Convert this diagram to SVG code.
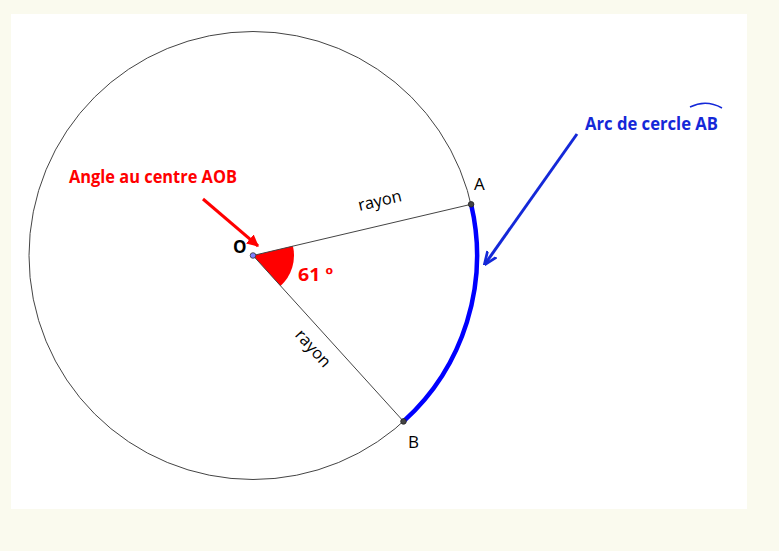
<svg xmlns="http://www.w3.org/2000/svg" width="779" height="551" viewBox="0 0 779 551">
<defs>
<style>
.lbl{font-family:"Open Sans","Liberation Sans",sans-serif;}
.red{fill:#ff0000;font-weight:bold;font-size:17px;}
.blue{fill:#1428d8;font-weight:bold;font-size:17px;}
.pt{font-size:17px;fill:#000;}
</style>
<marker id="arR" viewBox="0 0 10 10" refX="9" refY="5" markerWidth="4" markerHeight="4" orient="auto" markerUnits="strokeWidth">
<path d="M0,0 L10,5 L0,10 Z" fill="#ff0000"/>
</marker>
<marker id="arB" viewBox="0 0 10 10" refX="9" refY="5" markerWidth="4.5" markerHeight="4.5" orient="auto" markerUnits="strokeWidth">
<path d="M0,1 L10,5 L0,9" fill="none" stroke="#1428d8" stroke-width="2"/>
</marker>
</defs>
<rect width="779" height="551" fill="#fafaee"/>
<rect x="11" y="14" width="736" height="495" fill="#ffffff"/>
<g id="circle">
<circle cx="253" cy="255.5" r="224" fill="none" stroke="#444" stroke-width="1"/>
</g>
<g id="angle">
<path d="M253,255.5 L292.9,246.1 A41,41 0 0 1 280.5,285.9 Z" fill="#ff0000"/>
</g>
<g id="connectors">
<line x1="253" y1="255.5" x2="471.1" y2="204.3" stroke="#444" stroke-width="1"/>
<line x1="253" y1="255.5" x2="403.5" y2="421.4" stroke="#444" stroke-width="1"/>
<path d="M471.1,204.3 A224,224 0 0 1 403.5,421.4" fill="none" stroke="#0000ff" stroke-width="4.5"/>
<line x1="203" y1="199" x2="258" y2="246" stroke="#ff0000" stroke-width="3" marker-end="url(#arR)"/>
<line x1="577" y1="134" x2="485" y2="264" stroke="#1428d8" stroke-width="3" marker-end="url(#arB)"/>
</g>
<g id="pointO">
<circle cx="253" cy="255.5" r="2.8" fill="#7f7fff" stroke="#333" stroke-width="0.8"/>
<text class="lbl" x="233" y="253" font-size="17" font-weight="bold" fill="#000">O</text>
</g>
<g id="pointA">
<circle cx="471.1" cy="204.3" r="2.8" fill="#444" stroke="#222" stroke-width="0.8"/>
<text class="lbl pt" x="474" y="190">A</text>
</g>
<g id="pointB">
<circle cx="403.5" cy="421.4" r="2.8" fill="#444" stroke="#222" stroke-width="0.8"/>
<text class="lbl pt" x="408" y="448">B</text>
</g>
<g id="labels">
<text class="lbl red" x="69" y="183" textLength="168" lengthAdjust="spacingAndGlyphs">Angle au centre AOB</text>
<text class="lbl red" x="298" y="281" font-size="19" textLength="35" lengthAdjust="spacingAndGlyphs">61 º</text>
<text class="lbl blue" x="585" y="130" textLength="133" lengthAdjust="spacingAndGlyphs">Arc de cercle AB</text>
<path d="M690,107 Q706,99 722,108" fill="none" stroke="#1428d8" stroke-width="1.5"/>
<text class="lbl" font-size="16.5" fill="#000" text-anchor="middle" transform="translate(381,206) rotate(-13.2)">rayon</text>
<text class="lbl" font-size="16.5" fill="#000" text-anchor="middle" transform="translate(309,352) rotate(47.8)">rayon</text>
</g>
</svg>
